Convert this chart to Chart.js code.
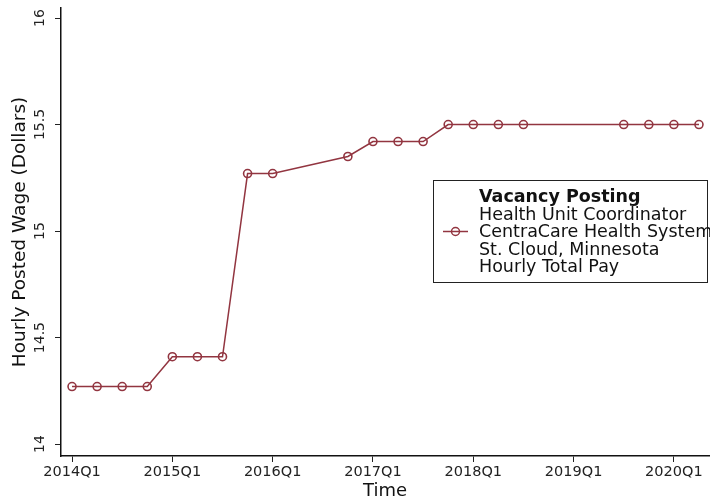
<!DOCTYPE html>
<html>
<head>
<meta charset="utf-8">
<script src="https://cdn.jsdelivr.net/npm/chart.js@4.4.0/dist/chart.umd.min.js"></script>
<style>
  html, body { margin: 0; padding: 0; background: #fff; }
  #wrap { width: 710px; height: 502px; }
</style>
</head>
<body>
<div id="wrap"><canvas id="myChart" width="710" height="502"></canvas></div>
<script>
// data
var quarters = ['2014Q1', '2014Q2', '2014Q3', '2014Q4', '2015Q1', '2015Q2', '2015Q3', '2015Q4',
    '2016Q1', '2016Q4', '2017Q1', '2017Q2', '2017Q3', '2017Q4', '2018Q1', '2018Q2', '2018Q3',
    '2019Q3', '2019Q4', '2020Q1', '2020Q2'];
var wages = [14.27, 14.27, 14.27, 14.27, 14.41, 14.41, 14.41, 15.27,
    15.27, 15.35, 15.42, 15.42, 15.42, 15.50, 15.50, 15.50, 15.50,
    15.50, 15.50, 15.50, 15.50];
var xTickLabels = ['2014Q1', '2015Q1', '2016Q1', '2017Q1', '2018Q1', '2019Q1', '2020Q1'];
var yTickValues = [14, 14.5, 15, 15.5, 16];
var legendLines = ['Vacancy Posting', 'Health Unit Coordinator', 'CentraCare Health System',
    'St. Cloud, Minnesota', 'Hourly Total Pay'];

var lineColor = '#923540';
var font = "'DejaVu Sans', sans-serif";

// quarter string -> number of quarters since 2014Q1
function qIndex(q) {
    return (parseInt(q.slice(0, 4)) - 2014) * 4 + parseInt(q.slice(5)) - 1;
}

var points = quarters.map(function (q, i) {
    return { x: qIndex(q), y: wages[i] };
});

var extras = {
    id: 'extras',
    afterDraw: function (chart) {
        var ctx = chart.ctx;
        var ys = chart.scales.y;
        // rotated y tick labels
        ctx.save();
        ctx.fillStyle = '#222';
        ctx.font = '14px ' + font;
        ctx.textAlign = 'center';
        ctx.textBaseline = 'alphabetic';
        yTickValues.forEach(function (v) {
            ctx.save();
            ctx.translate(44, ys.getPixelForValue(v));
            ctx.rotate(-Math.PI / 2);
            ctx.fillText(String(v), 0, 0);
            ctx.restore();
        });
        ctx.restore();

        // legend box
        ctx.save();
        ctx.strokeStyle = '#222';
        ctx.lineWidth = 1;
        ctx.fillStyle = '#fff';
        ctx.fillRect(433.5, 180.5, 274, 102);
        ctx.strokeRect(433.5, 180.5, 274, 102);
        ctx.strokeStyle = lineColor;
        ctx.lineWidth = 1.5;
        ctx.beginPath();
        ctx.moveTo(443, 231.5);
        ctx.lineTo(468, 231.5);
        ctx.stroke();
        ctx.beginPath();
        ctx.arc(455.5, 231.5, 4, 0, Math.PI * 2);
        ctx.stroke();
        ctx.fillStyle = '#111';
        ctx.textAlign = 'left';
        ctx.textBaseline = 'middle';
        legendLines.forEach(function (t, i) {
            ctx.font = (i === 0 ? 'bold ' : '') + '17.5px ' + font;
            ctx.fillText(t, 479, 197.5 + i * 17.5);
        });
        ctx.restore();
    }
};

var ctx = document.getElementById('myChart').getContext('2d');
var myChart = new Chart(ctx, {
    type: 'line',
    data: {
        datasets: [{
            label: 'Vacancy Posting',
            data: points,
            borderColor: lineColor,
            borderWidth: 1.5,
            pointRadius: 4,
            pointBorderWidth: 1.6,
            pointBackgroundColor: 'rgba(0,0,0,0)',
            pointBorderColor: lineColor,
            tension: 0,
            fill: false,
            clip: false
        }]
    },
    options: {
        responsive: false,
        animation: false,
        layout: { autoPadding: false, padding: { top: 8, right: 1, left: 0, bottom: 0 } },
        plugins: {
            legend: { display: false },
            tooltip: { enabled: false }
        },
        scales: {
            x: {
                type: 'linear',
                min: -0.44,
                max: 25.4,
                afterBuildTicks: function (scale) {
                    scale.ticks = xTickLabels.map(function (q) { return { value: qIndex(q) }; });
                },
                afterFit: function (scale) {
                    scale.height = 46;
                    scale.paddingLeft = 0;
                    scale.paddingRight = 0;
                },
                ticks: {
                    callback: function (v) { return (2014 + v / 4) + 'Q1'; },
                    font: { family: font, size: 14.5 },
                    color: '#222',
                    padding: 2,
                    maxRotation: 0
                },
                grid: { drawOnChartArea: false, tickLength: 6, color: '#222', tickColor: '#222' },
                border: { color: '#111', width: 1.5 },
                title: {
                    display: true,
                    text: 'Time',
                    font: { family: font, size: 18 },
                    color: '#111',
                    padding: { top: 0, bottom: 0 }
                }
            },
            y: {
                min: 13.944,
                max: 16.047,
                afterBuildTicks: function (scale) {
                    scale.ticks = yTickValues.map(function (v) { return { value: v }; });
                },
                afterFit: function (scale) {
                    scale.width = 61;
                    scale.paddingTop = 0;
                    scale.paddingBottom = 0;
                },
                ticks: { display: false },
                grid: { drawOnChartArea: false, tickLength: 6, color: '#222', tickColor: '#222' },
                border: { color: '#111', width: 1.5 },
                title: {
                    display: true,
                    text: 'Hourly Posted Wage (Dollars)',
                    font: { family: font, size: 18.5 },
                    color: '#111',
                    padding: { top: 9, bottom: 0 }
                }
            }
        }
    },
    plugins: [extras]
});
</script>
</body>
</html>
